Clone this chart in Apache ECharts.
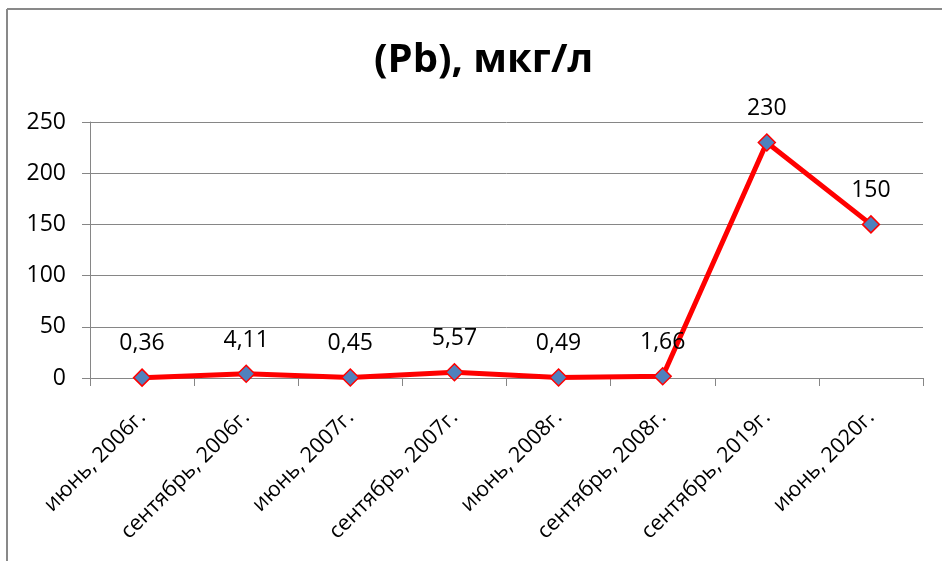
<!DOCTYPE html>
<html>
<head>
<meta charset="utf-8">
<script src="https://cdn.jsdelivr.net/npm/echarts@6/dist/echarts.min.js"></script>
<style>
html,body{margin:0;padding:0;background:#fff;}
#chart{width:942px;height:561px;}
</style>
</head>
<body>
<div id="chart"></div>
<script>
const titleText = '(Pb), мкг/л';
const categories = ['июнь, 2006г.', 'сентябрь, 2006г.', 'июнь, 2007г.', 'сентябрь, 2007г.', 'июнь, 2008г.', 'сентябрь, 2008г.', 'сентябрь, 2019г.', 'июнь, 2020г.'];
const values = [0.36, 4.11, 0.45, 5.57, 0.49, 1.66, 230, 150];
const yMin = 0, yMax = 250, yStep = 50;

const chart = echarts.init(document.getElementById('chart'), null, {renderer: 'canvas'});
const font = '"Open Sans", "Noto Sans", sans-serif';
chart.setOption({
  backgroundColor: '#fff',
  animation: false,
  title: {
    text: titleText,
    left: 369,
    top: 36,
    textStyle: {fontFamily: font, fontSize: 40, fontWeight: 'bold', color: '#000'}
  },
  graphic: [
    {type: 'line', shape: {x1: 7, y1: 9, x2: 942, y2: 9}, style: {stroke: '#898989', lineWidth: 2}},
    {type: 'line', shape: {x1: 7, y1: 9, x2: 7, y2: 561}, style: {stroke: '#898989', lineWidth: 2}}
  ],
  grid: {left: 90, right: 19, top: 122, bottom: 183, containLabel: false},
  xAxis: {
    type: 'category',
    data: categories,
    boundaryGap: true,
    axisLine: {show: true, lineStyle: {color: '#868686', width: 1}},
    axisTick: {show: true, length: 8, lineStyle: {color: '#868686'}},
    axisLabel: {rotate: 45, interval: 0, margin: 36, fontFamily: font, fontSize: 21.5, color: '#000'}
  },
  yAxis: {
    type: 'value',
    min: yMin, max: yMax, interval: yStep,
    axisLine: {show: true, lineStyle: {color: '#868686', width: 1}},
    axisTick: {show: true, length: 8, lineStyle: {color: '#868686'}},
    splitLine: {show: true, lineStyle: {color: '#868686', width: 1}},
    axisLabel: {margin: 24, fontFamily: font, fontSize: 23, color: '#000'}
  },
  series: [{
    type: 'line',
    data: values,
    symbol: 'diamond',
    symbolSize: 17,
    lineStyle: {color: '#FF0000', width: 5},
    itemStyle: {color: '#4F81BD', borderColor: '#FF0000', borderWidth: 1.5},
    label: {
      show: true,
      position: 'top',
      distance: 13,
      fontFamily: font,
      fontSize: 23,
      color: '#000',
      formatter: p => String(p.value).replace('.', ',')
    },
    z: 3
  }]
});
</script>
</body>
</html>
